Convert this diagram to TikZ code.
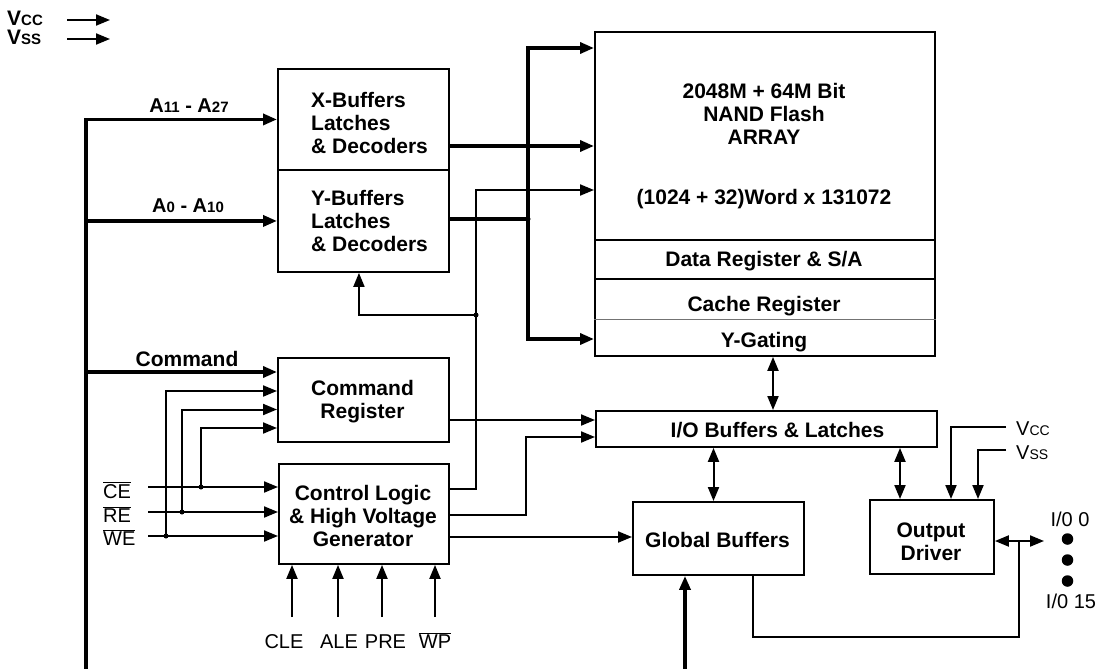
\documentclass[tikz,border=0pt]{standalone}
\usepackage{fontspec}
\setmainfont{Liberation Sans}
\usetikzlibrary{arrows.meta,calc}
\begin{document}
\begin{tikzpicture}[x=1pt,y=-1pt,
  box/.style={draw, line width=1.9pt, inner sep=0pt, anchor=north west},
  bt/.style={font=\bfseries\fontsize{21}{23}\selectfont, inner sep=0pt},
  rt/.style={font=\fontsize{20}{22}\selectfont, inner sep=0pt},
  wire/.style={line width=2pt},
  bus/.style={line width=3.4pt},
  tip/.style={-{Triangle[length=14pt,width=11pt]}},
  tips/.style={{Triangle[length=14pt,width=11pt]}-{Triangle[length=14pt,width=11pt]}},
  dot/.style={circle, fill, inner sep=0pt, minimum size=5pt},
  bigdot/.style={circle, fill, inner sep=0pt, minimum size=11.5pt},
  sep/.style={line width=1.9pt}
]
\useasboundingbox (0,0) rectangle (1100,669);

% ---------- boxes ----------
\node[box, minimum width=171pt, minimum height=101pt] (xb) at (277,68) {};
\node[box, minimum width=171pt, minimum height=102pt] (yb) at (277,169) {};
\node[box, minimum width=171pt, minimum height=84pt] (cmd) at (277,357) {};
\node[box, minimum width=170pt, minimum height=100pt] (ctl) at (278,463) {};
\node[box, minimum width=340pt, minimum height=324pt] (arr) at (594,31) {};
\node[box, minimum width=341pt, minimum height=36pt] (io) at (595,410) {};
\node[box, minimum width=171pt, minimum height=73pt] (gb) at (632,501) {};
\node[box, minimum width=124pt, minimum height=74pt] (od) at (869,499) {};

% ---------- box texts ----------
\node[bt, align=left, anchor=west] (xbt) at (311,123) {X-Buffers\\Latches\\\& Decoders};
\node[bt, align=left, anchor=west] (ybt) at (311,220.5) {Y-Buffers\\Latches\\\& Decoders};
\node[bt, align=center] (cmdt) at (362.5,402) {Command\\Register};
\node[bt, align=center] (ctlt) at (363,515.5) {Control Logic\\\& High Voltage\\Generator};
\node[bt, align=center] (arrt) at (764,114.2) {2048M + 64M Bit\\NAND Flash\\ARRAY};
\node[bt, anchor=base] (orgt) at (764,204.3) {(1024 + 32)Word x 131072};
\node[bt, anchor=base] (dregt) at (764,266.8) {Data Register \& S/A};
\node[bt, anchor=base] (cachet) at (764,311.5) {Cache Register};
\node[bt, anchor=base] (ygt) at (764,347.5) {Y-Gating};
\node[bt, anchor=base] (iot) at (777.5,437.5) {I/O Buffers \& Latches};
\node[bt, anchor=base] (gbt) at (717.5,547.5) {Global Buffers};
\node[bt, align=center] (odt) at (931,541.7) {Output\\Driver};

% array separators
\draw[sep] ($(arr.north west)+(0,209)$) -- ($(arr.north east)+(0,209)$);
\draw[sep] ($(arr.north west)+(0,248)$) -- ($(arr.north east)+(0,248)$);
\draw[line width=1pt, black!55] ($(arr.north west)+(0,288)$) -- ($(arr.north east)+(0,288)$);

% ---------- power labels top-left ----------
\node[anchor=base west, inner sep=0pt, font=\bfseries] (vccT) at (7,25.7)
  {{\fontsize{21}{22}\selectfont V}{\fontsize{15}{16}\selectfont CC}};
\node[anchor=base west, inner sep=0pt, font=\bfseries] (vssT) at (7,44.8)
  {{\fontsize{21}{22}\selectfont V}{\fontsize{15}{16}\selectfont SS}};
\coordinate (vccA) at (67,20);  \coordinate (vccB) at (110,20);
\coordinate (vssA) at (67,39);  \coordinate (vssB) at (110,39);
\draw[wire,tip] (vccA) -- (vccB);
\draw[wire,tip] (vssA) -- (vssB);

% ---------- address / command bus ----------
\coordinate (busbot) at (86,669);
\draw[bus,tip] (busbot) |- (xb.west);
\draw[bus,tip] (yb.west -| busbot) -- (yb.west);
\draw[bus,tip] ($(cmd.north west -| busbot)+(0,15)$) -- ($(cmd.north west)+(0,15)$);

\node[anchor=base, inner sep=0pt, font=\bfseries] (a1t) at (189,112)
  {{\fontsize{20}{20}\selectfont A}{\fontsize{15}{14}\selectfont 11}{\fontsize{20}{20}\selectfont\ - A}{\fontsize{15}{14}\selectfont 27}};
\node[anchor=base, inner sep=0pt, font=\bfseries] (a0t) at (188,212.5)
  {{\fontsize{20}{20}\selectfont A}{\fontsize{15}{14}\selectfont 0}{\fontsize{20}{20}\selectfont\ - A}{\fontsize{15}{14}\selectfont 10}};
\node[bt, anchor=base] (cmdl) at (187,366) {Command};

% ---------- X/Y decoder outputs to array ----------
\draw[bus,tip] ($(xb.north east)+(0,78)$) -- ($(arr.north west)+(0,115)$);
\coordinate (jy) at (528,219);
\draw[bus] ($(yb.north east)+(0,50)$) -- (jy);
\draw[bus,tip] (jy) |- ($(arr.north west)+(0,17)$);
\draw[bus,tip] (jy) |- ($(arr.north west)+(0,308)$);
\node[dot] (jyd) at (jy) {};

% ---------- control logic outputs ----------
\coordinate (jc) at (476,315);
\draw[wire,tip] ($(ctl.north east)+(0,26)$) -| (jc) |- ($(arr.north west)+(0,159)$);
\draw[wire,tip] (jc) -| ($(yb.south)+(-4.5,0)$);
\node[dot] (jcd) at (jc) {};
\draw[wire,tip] ($(cmd.north east)+(0,63)$) -- ($(io.north west)+(0,10)$);
\draw[wire,tip] ($(ctl.north east)+(0,52)$) -| ($(io.north west)+(-69,27)$) -- ($(io.north west)+(0,27)$);
\draw[wire,tip] ($(ctl.north east)+(0,74)$) -- ($(gb.north west)+(0,36)$);

% ---------- data path ----------
\draw[wire,tips] ($(arr.south west)+(179,0)$) -- ($(io.north west)+(178,0)$);
\draw[wire,tips] ($(io.south west)+(118.5,0)$) -- ($(gb.north west)+(81.5,0)$);
\draw[wire,tips] ($(io.south west)+(305,0)$) -- ($(od.north west)+(31,0)$);
\coordinate (gbin) at (685,669);
\draw[bus,tip] (gbin) -- ($(gb.south west)+(53,0)$);

% output driver supplies
\node[anchor=base west, inner sep=0pt] (vccR) at (1016,435)
  {{\fontsize{20}{20}\selectfont V}{\fontsize{14}{14}\selectfont CC}};
\node[anchor=base west, inner sep=0pt] (vssR) at (1016,459.5)
  {{\fontsize{20}{20}\selectfont V}{\fontsize{14}{14}\selectfont SS}};
\coordinate (vccRe) at (1006,427);
\coordinate (vssRe) at (1006,450);
\draw[wire,tip] (vccRe) -| ($(od.north west)+(82,0)$);
\draw[wire,tip] (vssRe) -| ($(od.north west)+(109,0)$);

% I/O pins
\coordinate (ioend) at (1044,541);
\coordinate (jo) at (1018.5,541);
\coordinate (jo2) at (1018.5,637);
\draw[wire,tips] ($(od.north east)+(0,42)$) -- (ioend);
\draw[wire] (jo) -- (jo2) -| ($(gb.south west)+(121,0)$);
\node[bigdot] (d1) at (1067.5,539) {};
\node[bigdot] (d2) at (1067.5,560) {};
\node[bigdot] (d3) at (1067.5,581) {};
\node[rt, anchor=base] (io0) at (1070,526.7) {I/0 0};
\node[rt, anchor=base] (io15) at (1071,608) {I/0 15};

% ---------- CE / RE / WE ----------
\node[rt, anchor=base west] (ceT) at (103,498) {$\overline{\hbox{CE}}$};
\node[rt, anchor=base west] (reT) at (103,522) {$\overline{\hbox{RE}}$};
\node[rt, anchor=base west] (weT) at (103,545.5) {$\overline{\hbox{WE}}$};
\coordinate (ceS) at (148,487);
\coordinate (reS) at (148,512);
\coordinate (weS) at (148,536);
\coordinate (jce) at (201,487);
\coordinate (jre) at (182,512);
\coordinate (jwe) at (166,536);
\draw[wire,tip] (ceS) -- (ceS -| ctl.west);
\draw[wire,tip] (reS) -- (reS -| ctl.west);
\draw[wire,tip] (weS) -- (weS -| ctl.west);
\draw[wire,tip] (jce) |- ($(cmd.north west)+(0,71)$);
\draw[wire,tip] (jre) |- ($(cmd.north west)+(0,52.5)$);
\draw[wire,tip] (jwe) |- ($(cmd.north west)+(0,34)$);
\node[dot] (jced) at (jce) {};
\node[dot] (jred) at (jre) {};
\node[dot] (jwed) at (jwe) {};

% ---------- CLE / ALE / PRE / WP ----------
\node[rt, anchor=base] (cleT) at (284,648) {CLE};
\node[rt, anchor=base] (aleT) at (339,648) {ALE};
\node[rt, anchor=base] (preT) at (385.5,648) {PRE};
\node[rt, anchor=base] (wpT) at (435,648) {$\overline{\hbox{WP}}$};
\coordinate (cleS) at (292,617);
\coordinate (aleS) at (338,617);
\coordinate (preS) at (382,617);
\coordinate (wpS) at (435,617);
\draw[wire,tip] (cleS) -- (cleS |- ctl.south);
\draw[wire,tip] (aleS) -- (aleS |- ctl.south);
\draw[wire,tip] (preS) -- (preS |- ctl.south);
\draw[wire,tip] (wpS) -- (wpS |- ctl.south);
\end{tikzpicture}
\end{document}
